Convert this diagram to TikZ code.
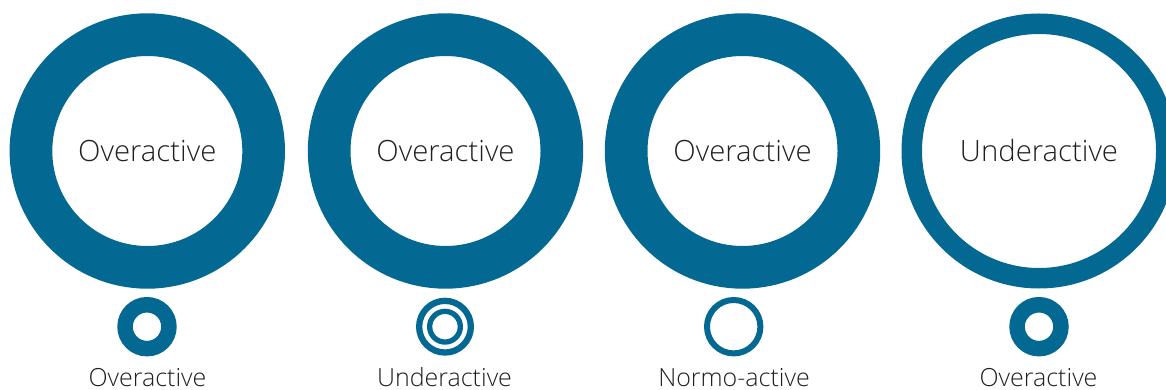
\documentclass[tikz,border=0pt]{standalone}
\usepackage{fontspec}
\setmainfont{Open Sans}[UprightFont=* Light]
\definecolor{ringblue}{RGB}{3,105,147}
\definecolor{txt}{RGB}{35,31,32}
\begin{document}
\begin{tikzpicture}[x=1pt,y=-1pt,
  bigring/.style={circle,draw=ringblue,inner sep=0pt,outer sep=0pt,
    line width=42.7pt,minimum size=232.7pt,text=txt,font=\fontsize{29.3}{31}\selectfont},
  thinring/.style={circle,draw=ringblue,inner sep=0pt,outer sep=0pt,
    line width=20.5pt,minimum size=254.5pt,text=txt,font=\fontsize{29.3}{31}\selectfont},
  smallthick/.style={circle,draw=ringblue,inner sep=0pt,outer sep=0pt,
    line width=15.5pt,minimum size=43.9pt},
  smallthin/.style={circle,draw=ringblue,inner sep=0pt,outer sep=0pt,
    line width=6pt,minimum size=53.4pt},
  smallouter/.style={circle,draw=ringblue,inner sep=0pt,outer sep=0pt,
    line width=6.3pt,minimum size=51.7pt},
  smallinner/.style={circle,draw=ringblue,inner sep=0pt,outer sep=0pt,
    line width=5.3pt,minimum size=30.7pt},
  lbl/.style={anchor=base,inner sep=0pt,text=txt,font=\fontsize{25}{27}\selectfont}]
\useasboundingbox (0,0) rectangle (1166,390);
\clip (0,0) rectangle (1166,390);
\node[bigring] (b1) at (147.3,151) {Overactive};
\node[bigring] (b2) at (445.5,151) {Overactive};
\node[bigring] (b3) at (742.5,151) {Overactive};
\node[thinring] (b4) at (1039,151) {Underactive};
\node[smallthick] (s1) at (147,326.7) {};
\node[smallouter] (s2) at (445,326.7) {};
\node[smallinner] (s2i) at (445,326.7) {};
\node[smallthin] (s3) at (733.7,326.7) {};
\node[smallthick] (s4) at (1039,326.7) {};
\node[lbl] (l1) at (147.5,386) {Overactive};
\node[lbl] (l2) at (444.5,386) {Underactive};
\node[lbl] (l3) at (734,386) {Normo-active};
\node[lbl] (l4) at (1038.5,386) {Overactive};
\end{tikzpicture}
\end{document}
